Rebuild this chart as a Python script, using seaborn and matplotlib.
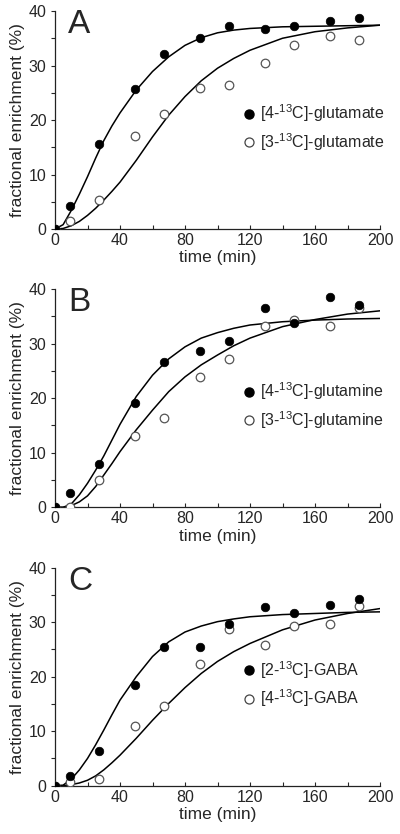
import numpy as np
import pandas as pd
import seaborn as sns
import matplotlib
matplotlib.use("Agg")
import matplotlib.pyplot as plt
from matplotlib.ticker import MultipleLocator
from matplotlib.lines import Line2D

# measured time points (min)
times = [0, 9, 27, 49, 67, 89, 107, 129, 147, 169, 187]

# panel A: glutamate
glu4 = [0, 4.2, 15.6, 25.7, 32.2, 35.0, 37.3, 36.7, 37.3, 38.2, 38.7]
glu3 = [0, 1.4, 5.3, 17.0, 21.1, 25.8, 26.5, 30.5, 33.8, 35.4, 34.7]
# panel B: glutamine
gln4 = [0, 2.7, 7.9, 19.2, 26.7, 28.6, 30.5, 36.5, 33.7, 38.5, 37.0]
gln3 = [0, 0, 5.0, 13.1, 16.4, 23.9, 27.2, 33.3, 34.3, 33.3, 36.5]
# panel C: GABA
gaba2 = [0, 1.7, 6.4, 18.5, 25.5, 25.4, 29.7, 32.8, 31.6, 33.1, 34.3]
gaba4 = [0, 0.6, 1.2, 10.9, 14.6, 22.3, 28.7, 25.8, 29.3, 29.7, 33.0]

# fitted curves
fit_t = [0, 5, 10, 15, 20, 25, 30, 35, 40, 50, 60, 70, 80, 90, 100, 110, 120, 140, 160, 180, 200]
fit_glu4 = [0, 0.8, 3.4, 6.4, 9.6, 13.0, 16.2, 18.9, 21.3, 25.5, 28.9, 31.6, 33.7, 35.1, 36.0, 36.5, 36.8, 37.1, 37.2, 37.3, 37.4]
fit_glu3 = [0, 0.1, 0.6, 1.4, 2.5, 3.8, 5.3, 6.9, 8.6, 12.6, 16.9, 20.9, 24.3, 27.2, 29.5, 31.3, 32.8, 35.0, 36.2, 36.9, 37.4]
fit_gln4 = [0, 0, 0.6, 2.3, 4.4, 6.8, 9.4, 12.3, 15.2, 20.3, 24.2, 27.2, 29.4, 31.0, 32.0, 32.8, 33.4, 34.0, 34.3, 34.5, 34.6]
fit_gln3 = [0, 0, 0.3, 1.0, 2.1, 3.8, 5.9, 8.0, 10.2, 14.2, 17.8, 21.2, 23.9, 26.1, 27.9, 29.6, 31.0, 33.1, 34.4, 35.4, 36.0]
fit_gaba2 = [0, 0.1, 1.2, 2.9, 5.0, 7.5, 10.2, 13.0, 15.7, 20.0, 23.7, 26.4, 28.2, 29.3, 30.1, 30.6, 31.0, 31.4, 31.6, 31.8, 31.9]
fit_gaba4 = [0, 0, 0.2, 0.5, 1.0, 1.8, 2.9, 4.2, 5.6, 8.7, 12.0, 15.1, 18.0, 20.6, 22.8, 24.6, 26.1, 28.6, 30.4, 31.6, 32.5]

panels = [
    ("A", glu4, glu3, fit_glu4, fit_glu3,
     [r"[4-$^{13}$C]-glutamate", r"[3-$^{13}$C]-glutamate"]),
    ("B", gln4, gln3, fit_gln4, fit_gln3,
     [r"[4-$^{13}$C]-glutamine", r"[3-$^{13}$C]-glutamine"]),
    ("C", gaba2, gaba4, fit_gaba2, fit_gaba4,
     [r"[2-$^{13}$C]-GABA", r"[4-$^{13}$C]-GABA"]),
]

sns.set_style("ticks")
plt.rcParams["font.family"] = ["Liberation Sans", "DejaVu Sans"]
plt.rcParams["mathtext.default"] = "regular"

fig = plt.figure(figsize=(4.0, 8.34), dpi=100)
# axes rectangles in figure fractions
rects = [(0.1375, 0.7254, 0.8125, 0.2614),
         (0.1375, 0.3917, 0.8125, 0.2618),
         (0.1375, 0.0579, 0.8125, 0.2614)]

for rect, (letter, filled, empty, fit_f, fit_e, labels) in zip(rects, panels):
    ax = fig.add_axes(rect)
    pts = pd.DataFrame({"t": times, "filled": filled, "empty": empty})
    fit = pd.DataFrame({"t": fit_t, "filled": fit_f, "empty": fit_e})

    sns.lineplot(data=fit, x="t", y="filled", ax=ax, color="black", lw=1.1)
    sns.lineplot(data=fit, x="t", y="empty", ax=ax, color="black", lw=1.1)
    sns.scatterplot(data=pts, x="t", y="empty", ax=ax, s=38, color="white",
                    edgecolor="#555555", linewidth=0.9, zorder=3)
    sns.scatterplot(data=pts, x="t", y="filled", ax=ax, s=38, color="black",
                    edgecolor="black", linewidth=0.5, zorder=4)

    ax.set_xlim(0, 200)
    ax.set_ylim(0, 40)
    ax.xaxis.set_major_locator(MultipleLocator(40))
    ax.xaxis.set_minor_locator(MultipleLocator(20))
    ax.yaxis.set_major_locator(MultipleLocator(10))
    ax.yaxis.set_minor_locator(MultipleLocator(5))
    ax.tick_params(axis="x", which="both", direction="in", length=3, width=0.8,
                   labelsize=11.5, pad=3)
    ax.tick_params(axis="y", which="both", direction="out", length=3, width=0.8,
                   labelsize=11.5, pad=3)
    for s in ("top", "right"):
        ax.spines[s].set_visible(False)
    for s in ("left", "bottom"):
        ax.spines[s].set_linewidth(0.9)
        ax.spines[s].set_color("#222222")
    ax.set_xlabel("time (min)", fontsize=12.5, labelpad=1.5)
    ax.set_ylabel("fractional enrichment (%)", fontsize=12.5, labelpad=3)

    ax.text(0.04, 1.01, letter, transform=ax.transAxes, fontsize=24,
            va="top", ha="left")

    handles = [
        Line2D([], [], marker="o", ls="none", markersize=6.5,
               markerfacecolor="black", markeredgecolor="black"),
        Line2D([], [], marker="o", ls="none", markersize=6.5,
               markerfacecolor="white", markeredgecolor="#444444",
               markeredgewidth=0.9),
    ]
    ax.legend(handles, labels, loc="center left", bbox_to_anchor=(0.553, 0.465),
              frameon=False, fontsize=11.5, handlelength=1.0, handletextpad=0.2,
              labelspacing=0.42, borderaxespad=0)

fig.savefig("out.png", dpi=100)
